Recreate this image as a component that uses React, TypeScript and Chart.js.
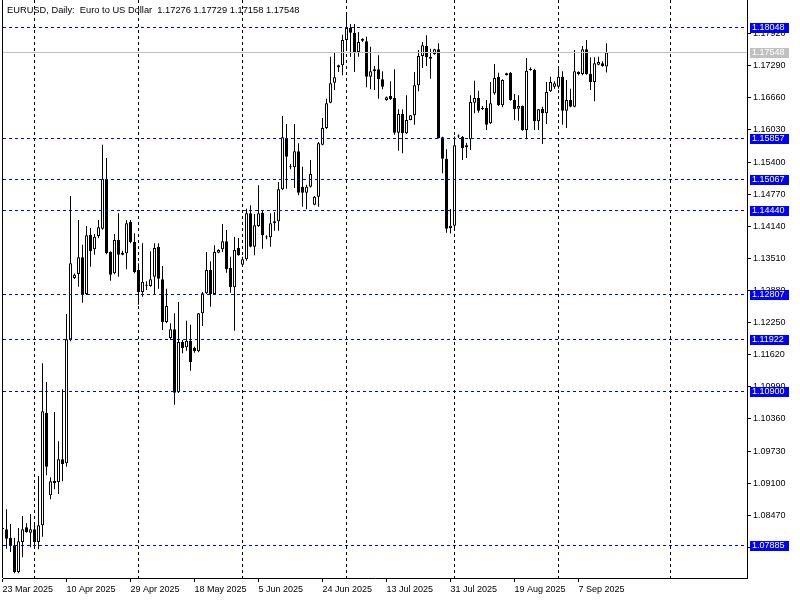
import React, { useEffect, useRef } from "react";
import { Chart, registerables } from "chart.js";

Chart.register(...registerables);

// ---- data (daily EURUSD bars, Sun–Fri sessions) ----
const opens = [
  1.08200, 1.08194, 1.08023, 1.07880, 1.07356, 1.07945, 1.08233, 1.08127, 1.08194, 1.07945,
  1.08272, 1.10482, 1.08861, 1.09148, 1.09122, 1.09568, 1.09489, 1.11922, 1.13125, 1.13203,
  1.13531, 1.12811, 1.13974, 1.13688, 1.13949, 1.14092, 1.15073, 1.13635, 1.13217, 1.13870,
  1.13621, 1.13609, 1.14223, 1.13831, 1.13282, 1.12850, 1.12990, 1.12968, 1.13150, 1.13739,
  1.13099, 1.12261, 1.11947, 1.12118, 1.10888, 1.11869, 1.11765, 1.11895, 1.11751, 1.11686,
  1.12432, 1.12824, 1.13282, 1.12811, 1.13621, 1.13688, 1.13845, 1.13321, 1.12942, 1.13713,
  1.13386, 1.13492, 1.14394, 1.13739, 1.14145, 1.14406, 1.13930, 1.13923, 1.14198, 1.14237,
  1.14865, 1.15871, 1.15300, 1.15297, 1.15610, 1.14916, 1.14798, 1.14916, 1.14563, 1.14720,
  1.15740, 1.16068, 1.16564, 1.16957, 1.17298, 1.17298, 1.17794, 1.18030, 1.17937, 1.17559,
  1.17820, 1.17769, 1.17074, 1.17180, 1.17219, 1.17023, 1.16617, 1.16695, 1.16656, 1.15975,
  1.16342, 1.15963, 1.16225, 1.16317, 1.16905, 1.17480, 1.17676, 1.17467, 1.17520, 1.17612,
  1.15885, 1.15465, 1.14106, 1.14150, 1.15900, 1.15897, 1.15689, 1.15846, 1.16564, 1.16656,
  1.16440, 1.16460, 1.16160, 1.16748, 1.17074, 1.16513, 1.17102, 1.17153, 1.16617, 1.16446,
  1.16499, 1.16028, 1.17219, 1.17206, 1.16199, 1.16446, 1.16356, 1.16788, 1.16878, 1.16878,
  1.17074, 1.16407, 1.16617, 1.16486, 1.17166, 1.17127, 1.17612, 1.17127, 1.16970, 1.17310,
  1.17337, 1.17276,
];
const highs = [
  1.08240, 1.08587, 1.08298, 1.08023, 1.08220, 1.08455, 1.08312, 1.08494, 1.08312, 1.09240,
  1.11451, 1.11084, 1.09214, 1.10496, 1.09921, 1.10941, 1.12418, 1.14734, 1.13215, 1.14263,
  1.13778, 1.14145, 1.14106, 1.13988, 1.14263, 1.15740, 1.15479, 1.13650, 1.13988, 1.14394,
  1.13660, 1.14263, 1.14263, 1.14002, 1.13413, 1.13805, 1.13060, 1.13648, 1.13805, 1.13805,
  1.13360, 1.12915, 1.12236, 1.12432, 1.12654, 1.11908, 1.12287, 1.12208, 1.11777, 1.12440,
  1.12850, 1.13635, 1.13452, 1.13766, 1.13688, 1.14184, 1.14066, 1.13543, 1.13935, 1.13909,
  1.13543, 1.14484, 1.14551, 1.14380, 1.14943, 1.14459, 1.13962, 1.14394, 1.14420, 1.15008,
  1.16303, 1.16146, 1.15361, 1.16146, 1.15767, 1.15308, 1.14955, 1.15440, 1.14734, 1.15793,
  1.16264, 1.16643, 1.17467, 1.17545, 1.17310, 1.17898, 1.18304, 1.18108, 1.18108, 1.17951,
  1.17830, 1.17859, 1.17663, 1.17284, 1.17494, 1.17180, 1.16686, 1.16984, 1.17219, 1.16434,
  1.16434, 1.16709, 1.16323, 1.17166, 1.17598, 1.17755, 1.17886, 1.17624, 1.17624, 1.17729,
  1.15897, 1.15650, 1.14480, 1.15900, 1.15940, 1.15911, 1.15773, 1.16709, 1.16996, 1.16799,
  1.16499, 1.16617, 1.16970, 1.17323, 1.17153, 1.17023, 1.17153, 1.17166, 1.16735, 1.16709,
  1.16510, 1.17441, 1.17259, 1.17231, 1.16440, 1.16486, 1.16970, 1.17074, 1.16984, 1.17284,
  1.17180, 1.17009, 1.16839, 1.17598, 1.17180, 1.17676, 1.17794, 1.17455, 1.17455, 1.17467,
  1.17376, 1.17729,
];
const lows = [
  1.08180, 1.07813, 1.07749, 1.07331, 1.07331, 1.07645, 1.08127, 1.07841, 1.07841, 1.07802,
  1.08049, 1.09254, 1.08783, 1.08979, 1.08887, 1.09136, 1.09422, 1.11883, 1.13105, 1.12954,
  1.12640, 1.12790, 1.13346, 1.13582, 1.13909, 1.14070, 1.13590, 1.13072, 1.13200, 1.13150,
  1.13570, 1.13295, 1.13805, 1.13217, 1.12601, 1.12758, 1.12889, 1.12954, 1.12811, 1.12915,
  1.12104, 1.12240, 1.11908, 1.10639, 1.10870, 1.11647, 1.11698, 1.11306, 1.11659, 1.11670,
  1.12183, 1.12811, 1.12561, 1.12800, 1.13609, 1.13635, 1.13229, 1.12836, 1.12091, 1.13560,
  1.13374, 1.13464, 1.13727, 1.13570, 1.14131, 1.13700, 1.13884, 1.13739, 1.14053, 1.14053,
  1.14850, 1.14877, 1.15257, 1.14890, 1.14747, 1.14524, 1.14472, 1.14900, 1.14551, 1.14524,
  1.15728, 1.16050, 1.16552, 1.16813, 1.17166, 1.17102, 1.17598, 1.17467, 1.17166, 1.17467,
  1.17755, 1.16866, 1.16827, 1.16813, 1.16643, 1.16827, 1.16603, 1.16617, 1.15936, 1.15622,
  1.15571, 1.15950, 1.16219, 1.16132, 1.16788, 1.17245, 1.17284, 1.17035, 1.17506, 1.15860,
  1.15179, 1.14013, 1.14000, 1.14070, 1.15870, 1.15440, 1.15479, 1.15636, 1.16356, 1.16368,
  1.16421, 1.16028, 1.16146, 1.16721, 1.16499, 1.16474, 1.17098, 1.16603, 1.16225, 1.16211,
  1.16015, 1.15846, 1.17192, 1.16028, 1.16028, 1.15754, 1.16146, 1.16774, 1.16839, 1.16839,
  1.16132, 1.16068, 1.16474, 1.16474, 1.17102, 1.17102, 1.17113, 1.16813, 1.16591, 1.17298,
  1.17270, 1.17158,
];
const closes = [
  1.08215, 1.08010, 1.07880, 1.07356, 1.07959, 1.08194, 1.08141, 1.08194, 1.07945, 1.08272,
  1.10509, 1.09422, 1.09136, 1.09097, 1.09568, 1.09475, 1.11922, 1.13413, 1.13189, 1.13531,
  1.12811, 1.13962, 1.13648, 1.13935, 1.14119, 1.15073, 1.13609, 1.13189, 1.13870, 1.13582,
  1.13582, 1.14198, 1.13831, 1.13242, 1.12850, 1.13051, 1.12975, 1.13099, 1.13713, 1.13111,
  1.12261, 1.12575, 1.12118, 1.10874, 1.11869, 1.11751, 1.11895, 1.11477, 1.11686, 1.12432,
  1.12824, 1.13282, 1.12811, 1.13635, 1.13674, 1.13845, 1.13295, 1.12942, 1.13674, 1.13570,
  1.13492, 1.14394, 1.13739, 1.14159, 1.14394, 1.13962, 1.13918, 1.14198, 1.14237, 1.14865,
  1.15885, 1.15505, 1.15315, 1.15610, 1.14798, 1.14798, 1.14916, 1.15165, 1.14720, 1.15767,
  1.16068, 1.16552, 1.16945, 1.17062, 1.17259, 1.17794, 1.18030, 1.17937, 1.17559, 1.17755,
  1.17781, 1.17074, 1.17180, 1.17219, 1.17023, 1.16878, 1.16670, 1.16631, 1.15975, 1.16342,
  1.15963, 1.16225, 1.16317, 1.16905, 1.17480, 1.17690, 1.17455, 1.17427, 1.17612, 1.15871,
  1.15465, 1.14092, 1.14150, 1.15728, 1.15915, 1.15669, 1.15728, 1.16578, 1.16656, 1.16407,
  1.16450, 1.16132, 1.16552, 1.17049, 1.16513, 1.17009, 1.17141, 1.16617, 1.16434, 1.16499,
  1.16028, 1.17192, 1.17206, 1.16199, 1.16434, 1.16356, 1.16774, 1.16970, 1.16945, 1.17074,
  1.16407, 1.16617, 1.16486, 1.17180, 1.17127, 1.17612, 1.17127, 1.16970, 1.17337, 1.17363,
  1.17284, 1.17548,
];

const dateLabels = [
  "23 Mar 2025", "10 Apr 2025", "29 Apr 2025", "18 May 2025", "5 Jun 2025",
  "24 Jun 2025", "13 Jul 2025", "31 Jul 2025", "19 Aug 2025", "7 Sep 2025",
];
const dateLabelBars = [0, 16, 32, 48, 64, 80, 96, 112, 128, 144];
const monthStartBars = [8, 34, 60, 86, 113, 139, 167];

const priceTicks = [
  1.17920, 1.17290, 1.16660, 1.16030, 1.15400, 1.14770, 1.14140, 1.13510, 1.12880,
  1.12250, 1.11620, 1.10990, 1.10360, 1.09730, 1.09100, 1.08470, 1.07840,
];
const levelLines = [1.18048, 1.15857, 1.15067, 1.14440, 1.12807, 1.11922, 1.10900, 1.07885];
const bidPrice = 1.17548;
const chartTitle = "EURUSD, Daily:  Euro to US Dollar  1.17276 1.17729 1.17158 1.17548";

const Y_MIN = 1.07239;
const Y_MAX = 1.18579;
const X_MIN = 0.125;
const X_MAX = 186.125;

const FONT = '"Liberation Sans", Arial, sans-serif';
const LEVEL_BLUE = "#0000ff";
const BID_GREY = "#c0c0c0";

export default function App() {
  const ref = useRef<HTMLCanvasElement>(null);

  useEffect(() => {
    document.body.style.margin = "0";
    const canvas = ref.current;
    if (!canvas) return;
    const idx = opens.map((_, i) => i);
    const wickData = idx.map((i) => ({ x: i, y: [lows[i], highs[i]] }));
    const bodyData = idx.map((i) => ({ x: i, y: [opens[i], closes[i]] }));
    const bodyColors = idx.map((i) => (closes[i] >= opens[i] ? "#ffffff" : "#000000"));

    const overlay = {
      id: "mtOverlay",
      afterDatasetsDraw(chart: any) {
        const { ctx, chartArea: a, scales } = chart;
        const ys = scales.y;
        ctx.save();
        ctx.beginPath();
        ctx.rect(a.left, a.top, a.right - a.left, a.bottom - a.top);
        ctx.clip();
        ctx.lineWidth = 1;
        ctx.strokeStyle = BID_GREY;
        ctx.setLineDash([]);
        const by = Math.round(ys.getPixelForValue(bidPrice) - 0.5) + 0.5;
        ctx.beginPath();
        ctx.moveTo(a.left, by);
        ctx.lineTo(a.right, by);
        ctx.stroke();
        ctx.strokeStyle = LEVEL_BLUE;
        ctx.setLineDash([3, 3]);
        levelLines.forEach((v) => {
          const py = Math.round(ys.getPixelForValue(v) - 0.5) + 0.5;
          ctx.beginPath();
          ctx.moveTo(a.left, py);
          ctx.lineTo(a.right, py);
          ctx.stroke();
        });
        ctx.restore();
      },
      afterDraw(chart: any) {
        const { ctx, chartArea: a, scales } = chart;
        const ys = scales.y;
        ctx.save();
        ctx.strokeStyle = "#000";
        ctx.lineWidth = 1;
        ctx.beginPath();
        ctx.moveTo(a.left - 0.5, a.top);
        ctx.lineTo(a.left - 0.5, a.bottom);
        ctx.stroke();
        ctx.font = `9px ${FONT}`;
        ctx.textBaseline = "middle";
        ctx.textAlign = "left";
        const box = (v: number, color: string) => {
          const py = Math.round(ys.getPixelForValue(v) - 0.5);
          ctx.fillStyle = color;
          ctx.fillRect(a.right + 3, py - 4, 39, 10);
          ctx.fillStyle = "#ffffff";
          ctx.fillText(v.toFixed(5), a.right + 5, py + 1);
        };
        levelLines.forEach((v) => box(v, LEVEL_BLUE));
        box(bidPrice, BID_GREY);
        ctx.fillStyle = "#000";
        ctx.font = `9.3px ${FONT}`;
        ctx.fillText(chartTitle, 7, 10);
        ctx.restore();
      },
    };

    const chart = new Chart(canvas, {
      type: "bar",
      data: {
        datasets: [
          {
            label: "wick",
            data: wickData as any,
            backgroundColor: "#000000",
            borderWidth: 0,
            barThickness: 1,
            grouped: false,
            inflateAmount: 0,
            minBarLength: 1,
            order: 3,
          } as any,
          {
            label: "body",
            data: bodyData as any,
            backgroundColor: bodyColors,
            borderColor: "#000000",
            borderWidth: 1,
            borderSkipped: false,
            barThickness: 3,
            grouped: false,
            inflateAmount: 0,
            minBarLength: 1,
            order: 2,
          } as any,
        ],
      },
      options: {
        animation: false,
        responsive: false,
        events: [],
        layout: { padding: { left: 3, top: 0, right: 0, bottom: 0 } },
        plugins: { legend: { display: false }, tooltip: { enabled: false }, title: { display: false } },
        scales: {
          x: {
            type: "linear",
            position: "bottom",
            offset: false,
            min: X_MIN,
            max: X_MAX,
            afterBuildTicks: (s: any) => {
              s.ticks = dateLabelBars.map((v) => ({ value: v }));
            },
            afterFit: (s: any) => {
              s.height = 22;
              s.paddingLeft = 0;
              s.paddingRight = 0;
            },
            ticks: {
              callback: (_v: any, i: number) => dateLabels[i] ?? "",
              align: "start",
              autoSkip: false,
              maxRotation: 0,
              minRotation: 0,
              padding: 2,
              color: "#000",
              font: { family: FONT, size: 9 },
            },
            grid: { offset: false, drawOnChartArea: false, drawTicks: true, tickLength: 4, color: "#000" },
            border: { display: true, color: "#000", width: 1 },
          } as any,
          xg: {
            type: "linear",
            position: "top",
            offset: false,
            min: X_MIN,
            max: X_MAX,
            afterBuildTicks: (s: any) => {
              s.ticks = monthStartBars.map((v) => ({ value: v }));
            },
            afterFit: (s: any) => {
              s.height = 0;
              s.paddingLeft = 0;
              s.paddingRight = 0;
            },
            ticks: { display: false },
            grid: { offset: false, drawOnChartArea: true, drawTicks: false, color: "#000", lineWidth: 1 },
            border: { display: false, dash: [3, 3] },
          } as any,
          y: {
            type: "linear",
            position: "right",
            min: Y_MIN,
            max: Y_MAX,
            afterBuildTicks: (s: any) => {
              s.ticks = priceTicks.map((v) => ({ value: v }));
            },
            afterFit: (s: any) => {
              s.width = 53;
              s.paddingTop = 0;
              s.paddingBottom = 0;
            },
            ticks: {
              callback: (v: any) => Number(v).toFixed(5),
              autoSkip: false,
              padding: 2,
              color: "#000",
              font: { family: FONT, size: 9 },
            },
            grid: { drawOnChartArea: false, drawTicks: true, tickLength: 4, color: "#000" },
            border: { display: true, color: "#000", width: 1 },
          } as any,
        },
      },
      plugins: [overlay],
    });
    return () => chart.destroy();
  }, []);

  return (
    <canvas
      ref={ref}
      width={800}
      height={600}
      style={{ position: "fixed", left: 0, top: 0, display: "block", background: "#fff" }}
    />
  );
}
